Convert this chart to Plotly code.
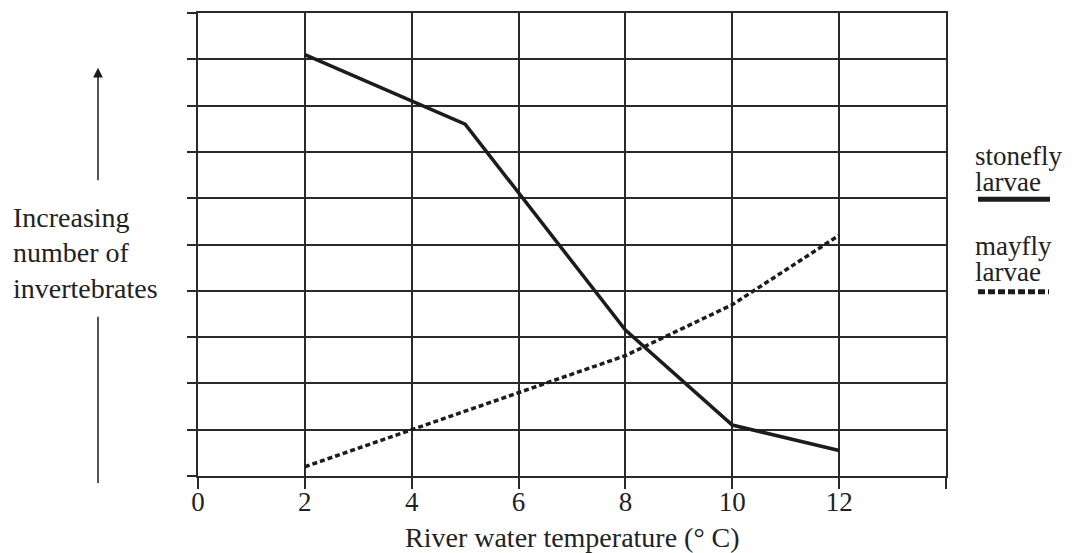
import plotly.graph_objects as go

# Data
stonefly_x = [2, 5, 8, 10, 12]
stonefly_y = [9.1, 7.6, 3.15, 1.1, 0.55]
mayfly_x = [2, 4, 6, 8, 10, 12]
mayfly_y = [0.2, 1.0, 1.8, 2.6, 3.7, 5.2]
x_tickvals = [0, 2, 4, 6, 8, 10, 12, 14]
x_ticktext = ["0", "2", "4", "6", "8", "10", "12", ""]

FONT = "Liberation Serif"
FS = 28
INK = "#1c1c1c"
GRID = "#2a2a2a"
TXT = "#222"

fig = go.Figure()
fig.add_trace(go.Scatter(x=stonefly_x, y=stonefly_y, mode="lines",
                         line=dict(color=INK, width=3.5), name="stonefly larvae",
                         showlegend=False))
fig.add_trace(go.Scatter(x=mayfly_x, y=mayfly_y, mode="lines",
                         line=dict(color=INK, width=3.5, dash="5px,3px"),
                         name="mayfly larvae", showlegend=False))
# invisible carrier trace for the label-only x axis
fig.add_trace(go.Scatter(x=stonefly_x, y=stonefly_y, mode="lines", xaxis="x2",
                         line=dict(width=0), opacity=0, hoverinfo="skip",
                         showlegend=False))

# page body has an 8px margin: figure occupies screen 8..1082, 8..553
fig.update_layout(
    width=1074, height=545,
    margin=dict(l=190, r=136, t=3, b=77),
    paper_bgcolor="white", plot_bgcolor="white",
    font=dict(family=FONT, size=FS, color=TXT),
    xaxis=dict(range=[0, 14], tickvals=x_tickvals, showticklabels=False,
               showgrid=True, gridcolor=GRID, gridwidth=1.5,
               showline=True, linecolor=GRID, linewidth=1.5, mirror=True,
               ticks="outside", ticklen=11, tickwidth=1.5, tickcolor=GRID,
               zeroline=False),
    xaxis2=dict(range=[0, 14], tickvals=x_tickvals, ticktext=x_ticktext,
                overlaying="x", anchor="y", side="bottom",
                showgrid=False, showline=False, zeroline=False, ticks="",
                ticklabelstandoff=7,
                tickfont=dict(family=FONT, size=27, color=TXT)),
    yaxis=dict(range=[0, 10], dtick=1, showticklabels=False,
               showgrid=True, gridcolor=GRID, gridwidth=1.5,
               showline=True, linecolor=GRID, linewidth=1.5, mirror=True,
               ticks="outside", ticklen=9, tickwidth=1.5, tickcolor=GRID,
               zeroline=False),
)

# screen pixel -> paper helpers (plot area on screen: x 198..946, y 11..476)
def px(x):
    return (x - 198) / 748.0

def py(y):
    return (476 - y) / 465.0

# x axis title
fig.add_annotation(text="River water temperature (° C)", xref="paper", yref="paper",
                   x=px(572), y=py(538), showarrow=False, xanchor="center", yanchor="middle",
                   font=dict(family=FONT, size=FS, color=TXT))

# y label (three lines)
for txt, yc in [("Increasing", 216), ("number of", 252), ("invertebrates", 288)]:
    fig.add_annotation(text=txt, xref="paper", yref="paper", x=px(11), y=py(yc),
                       showarrow=False, xanchor="left", yanchor="middle",
                       font=dict(family=FONT, size=FS, color=TXT))

# upward arrow
fig.add_annotation(text="", xref="paper", yref="paper", x=px(98), y=py(66),
                   ax=0, ay=114, showarrow=True, arrowhead=2, arrowsize=1.3,
                   arrowwidth=1.5, arrowcolor=INK)
fig.add_shape(type="line", xref="paper", yref="paper", x0=px(98), x1=px(98),
              y0=py(316), y1=py(483), line=dict(color=INK, width=1.5))

# legend
for txt, yc in [("stonefly", 155), ("larvae", 181), ("mayfly", 245), ("larvae", 271)]:
    fig.add_annotation(text=txt, xref="paper", yref="paper", x=px(974), y=py(yc),
                       showarrow=False, xanchor="left", yanchor="middle",
                       borderpad=0,
                       font=dict(family=FONT, size=27, color=TXT))
fig.add_shape(type="line", xref="paper", yref="paper", x0=px(978), x1=px(1050),
              y0=py(198), y1=py(198), line=dict(color=INK, width=5))
fig.add_shape(type="line", xref="paper", yref="paper", x0=px(978), x1=px(1049),
              y0=py(291), y1=py(291), line=dict(color=INK, width=5, dash="7px,3px"))

fig.write_html("out.html")
